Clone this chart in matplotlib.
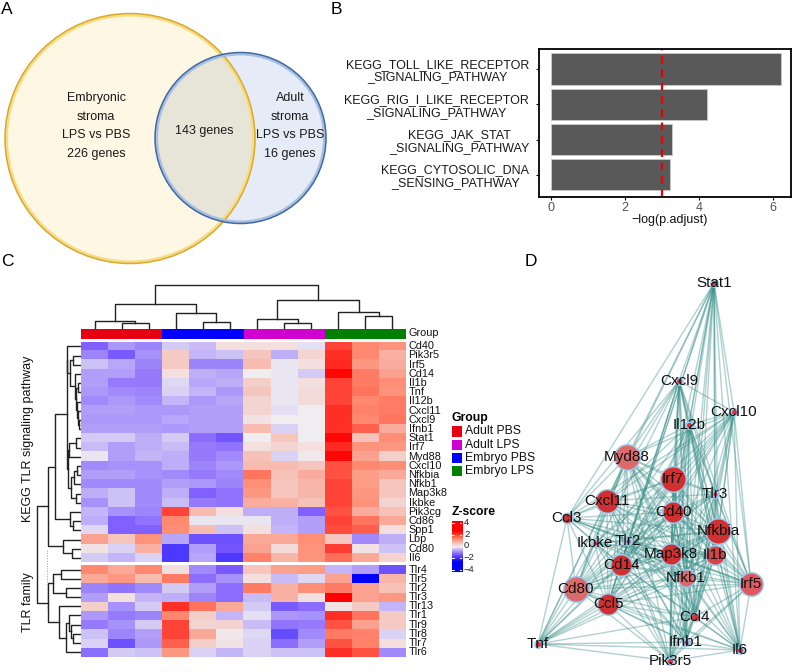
import numpy as np
import matplotlib
matplotlib.use("Agg")
import matplotlib.pyplot as plt
from matplotlib.colors import LinearSegmentedColormap
from matplotlib.patches import Circle, Rectangle

plt.rcParams['font.family'] = ['Liberation Sans', 'DejaVu Sans']

# panel A
venn_left = ["Embryonic", "stroma", "LPS vs PBS", "226 genes"]
venn_right = ["Adult", "stroma", "LPS vs PBS", "16 genes"]
venn_mid = "143 genes"

# panel B
pathways = ["KEGG_TOLL_LIKE_RECEPTOR\n_SIGNALING_PATHWAY",
            "KEGG_RIG_I_LIKE_RECEPTOR\n_SIGNALING_PATHWAY",
            "KEGG_JAK_STAT\n_SIGNALING_PATHWAY",
            "KEGG_CYTOSOLIC_DNA\n_SENSING_PATHWAY"]
neglog_p = [6.21, 4.22, 3.26, 3.21]
cutoff = 3

# panel C
kegg_genes = ["Cd40", "Pik3r5", "Irf5", "Cd14", "Il1b", "Tnf", "Il12b", "Cxcl11", "Cxcl9", "Ifnb1",
              "Stat1", "Irf7", "Myd88", "Cxcl10", "Nfkbia", "Nfkb1", "Map3k8", "Ikbke", "Pik3cg",
              "Cd86", "Spp1", "Lbp", "Cd80", "Il6"]
tlr_genes = ["Tlr4", "Tlr5", "Tlr2", "Tlr3", "Tlr13", "Tlr1", "Tlr9", "Tlr8", "Tlr7", "Tlr6"]
kegg_z = [
    [-2.0, -1.2, -1.5, -0.5, -0.7, 0.3, 0.3, 0.3, -0.2, 3.0, 2.0, 1.8],
    [-1.5, -2.1, -1.3, 0.7, -0.8, -0.6, 0.8, -0.9, 0.5, 3.3, 2.0, 1.2],
    [-0.6, -1.0, -1.5, 0.7, -1.5, -1.5, 1.0, -0.1, 0.3, 3.4, 1.7, 1.3],
    [-1.1, -1.1, -1.6, 0.3, -0.9, -1.0, 0.0, -0.1, -0.5, 3.9, 2.2, 1.5],
    [-1.1, -1.6, -1.6, -0.3, -1.0, -0.9, 0.6, -0.1, 0.3, 3.0, 2.2, 1.9],
    [-1.2, -1.4, -1.5, -0.4, -0.8, -1.2, 0.8, -0.1, 0.4, 3.0, 2.3, 1.8],
    [-1.4, -1.2, -1.4, -0.8, -1.2, -1.0, 0.5, -0.1, 0.4, 3.0, 2.0, 2.2],
    [-1.1, -1.1, -1.2, -1.2, -1.1, -1.1, 0.5, -0.2, 0.0, 3.3, 2.1, 2.2],
    [-1.2, -1.2, -1.2, -1.0, -1.1, -1.1, 0.2, 0.0, 0.0, 3.3, 2.0, 2.3],
    [-1.1, -1.1, -1.1, -1.2, -1.1, -1.1, 1.0, -0.4, 0.0, 3.3, 2.6, 1.3],
    [-0.5, -0.5, -0.9, -0.5, -1.8, -2.2, 0.0, 0.8, 0.0, 3.9, 0.9, 1.9],
    [-0.7, -1.1, -0.9, -0.7, -1.6, -1.7, 0.3, 0.5, 0.3, 3.4, 1.8, 1.7],
    [-0.1, -1.1, -0.8, -0.9, -1.6, -1.4, 0.9, -0.4, 0.1, 3.9, 1.5, 0.6],
    [-1.4, -1.3, -1.3, -0.9, -1.5, -1.2, 1.0, 1.0, 0.8, 2.8, 2.0, 1.9],
    [-1.1, -1.1, -1.3, -1.4, -1.6, -1.4, 2.3, 0.9, 1.3, 2.8, 1.6, 1.4],
    [-1.4, -1.4, -1.4, -1.1, -1.2, -1.5, 1.9, 0.8, 1.1, 3.0, 1.6, 0.8],
    [-0.9, -0.6, -1.4, -0.9, -2.0, -1.7, 1.7, 0.8, 1.1, 3.0, 1.7, 0.8],
    [-1.3, -0.6, -1.4, -0.7, -1.6, -1.7, 1.3, 1.2, 0.9, 3.0, 1.8, 0.5],
    [-0.8, -1.3, -1.5, 3.0, 1.0, 0.3, -0.9, -0.9, -2.0, 2.8, 1.3, 0.9],
    [-0.9, -2.0, -1.7, 2.0, -0.1, -0.1, -0.1, -0.9, -1.1, 3.0, 2.3, 1.4],
    [-0.3, -2.0, -2.0, 1.9, 1.0, -0.6, 0.3, -0.8, -1.1, 2.9, 2.6, 0.3],
    [1.5, 0.8, 1.8, -1.0, -2.3, -2.3, 1.4, 1.4, 1.9, 0.8, -1.4, -0.9],
    [0.2, -0.4, 1.2, -2.8, -1.1, -2.2, 1.5, 0.4, 1.8, 3.1, 0.2, -0.6],
    [-0.5, -0.8, -0.4, -2.8, -1.0, -2.8, 2.1, 1.1, 1.8, 2.4, 1.4, 0.5],
]
tlr_z = [
    [2.0, 1.4, 2.0, 0.3, -1.4, -2.1, 0.8, 1.5, 1.6, -0.8, -1.1, -2.3],
    [1.4, 1.7, 1.0, 2.2, -1.8, -1.3, 0.3, -0.7, -0.3, 1.5, -4.0, 1.1],
    [-1.5, -1.7, -1.4, -0.5, -1.1, -1.8, 2.2, 1.2, 1.9, 2.2, 1.5, 0.9],
    [-1.1, 0.3, -0.8, -0.9, -1.5, -1.8, -0.7, 1.2, 0.3, 4.0, 1.5, 1.7],
    [0.6, -1.3, -0.5, 3.3, 2.3, 1.4, -0.5, -2.1, -1.8, 0.2, 0.7, -0.8],
    [-1.2, -1.6, -1.5, 2.0, 0.6, -0.8, -0.2, -1.2, -1.3, 3.3, 2.3, 0.7],
    [-1.6, -1.3, -0.5, 3.0, 0.5, 0.5, -0.7, -1.7, -1.6, 2.8, 1.5, 0.7],
    [-0.6, -1.5, -1.1, 3.0, 1.4, 0.1, -0.3, -2.4, -1.4, 2.2, 2.1, -0.4],
    [-0.4, -2.3, -1.2, 2.6, 0.6, 0.2, -0.4, -1.8, -1.1, 2.8, 2.1, 0.3],
    [-1.8, -0.5, -0.6, 1.7, -0.4, -0.8, -0.4, -0.6, -0.6, 3.3, 2.8, -1.4],
]
group_names = ["Adult PBS", "Adult LPS", "Embryo PBS", "Embryo LPS"]
group_colors = ["#e60012", "#d000d0", "#0000ff", "#008000"]
col_groups = [0, 2, 1, 3]   # order of the groups along the top bar
z_ticks = [4, 2, 0, -2, -4]

# dendrograms as (height, left, right), leaves are column/row numbers
col_tree = (43, (24, (7, 0, (5.4, 1, 2)), (15, 3, (6.3, 4, 5))),
            (28, (8.7, 6, (5.3, 7, 8)), (16, 9, (12, 10, 11))))
tree_a = (14, 0, (11, (8.5, 1, 2), (6.5, 3, (5.5, (3, 4, 5), (4.5, 6, (3.5, 7, (2.5, 8, 9)))))))
tree_b = (12.5, (5, 10, 11), 12)
tree_c = (10, (7, (4, 13, 14), 15), (5, 16, 17))
tree_kegg = (33, (26, (14.5, tree_a, (13.5, tree_b, tree_c)), (11, 18, (8, 19, 20))),
             (18, 21, (9, 22, 23)))
tree_tlr = (33, (28, (20, 24, 25), (15, 26, 27)),
            (22, 28, (15.5, (12, 29, (10.5, 30, (8.5, 31, 32))), 33)))
row_tree = (44.3, tree_kegg, tree_tlr)

# panel D
node_names = ["Stat1", "Cxcl9", "Cxcl10", "Il12b", "Myd88", "Irf7", "Tlr3", "Cxcl11", "Cd40", "Ccl3",
              "Nfkbia", "Ikbke", "Tlr2", "Map3k8", "Il1b", "Cd14", "Nfkb1", "Irf5", "Cd80", "Ccl5",
              "Ccl4", "Tnf", "Ifnb1", "Il6", "Pik3r5"]
node_x = [714, 679, 734, 689, 627, 673, 715, 607, 673, 567, 718, 595, 628, 671, 715, 621, 686, 751,
          576, 608, 695, 538, 686, 740, 670]
node_y = [283, 381, 412, 425, 457, 479, 494, 501, 512, 518, 531, 543, 541, 554, 555, 565, 578, 584,
          589, 604, 617, 644, 642, 650, 661]
node_r = [2.5, 2.5, 2.5, 2.5, 12, 12, 2, 11, 10, 4.5, 12, 2, 2, 10, 9, 10, 8, 11, 12, 10, 3.5, 2.5,
          2, 2.5, 2.5]
node_red = ["#d9343a", "#d9343a", "#d9343a", "#d9343a", "#dc6a6a", "#d03030", "#d9343a", "#d03030",
            "#d03030", "#d03030", "#d03030", "#d9343a", "#d9343a", "#d03030", "#d64545", "#d03030",
            "#dc6a6a", "#dc5a5f", "#dc6a6a", "#d03030", "#d9343a", "#d9343a", "#d9343a", "#d9343a",
            "#d9343a"]
links = {
    "Stat1": "Ccl3 Cxcl11 Myd88 Cxcl9 Il12b Cxcl10 Irf7 Cd40 Tlr3 Nfkbia Il1b Map3k8 Irf5 Nfkb1 Cd14 Il6 Ifnb1 Ccl5 Ccl4",
    "Cxcl9": "Cxcl10 Il12b Myd88 Irf7 Cd40 Cxcl11 Ccl3 Tlr3 Nfkbia Map3k8 Il1b Cd14 Nfkb1 Tlr2 Irf5 Ccl5 Cd80 Ccl4 Ifnb1 Il6 Pik3r5",
    "Cxcl10": "Il12b Myd88 Irf7 Cd40 Cxcl11 Nfkbia Map3k8 Il1b Tlr3 Cd14 Nfkb1 Irf5 Ccl5 Ccl4 Il6 Ifnb1 Tlr2 Ccl3 Ikbke",
    "Il12b": "Myd88 Irf7 Cd40 Cxcl11 Nfkbia Map3k8 Il1b Tlr3 Cd14 Nfkb1 Irf5 Ccl4 Ifnb1 Pik3r5 Cd80 Ccl5 Il6",
    "Myd88": "Irf7 Cd40 Tlr3 Cxcl11 Ccl3 Nfkbia Ikbke Tlr2 Map3k8 Il1b Cd14 Nfkb1 Irf5 Cd80 Ccl5 Ccl4 Il6 Pik3r5 Tnf Ifnb1",
    "Irf7": "Tlr3 Cxcl11 Cd40 Ccl3 Nfkbia Ikbke Tlr2 Map3k8 Il1b Cd14 Nfkb1 Irf5 Cd80 Ccl5 Ccl4 Ifnb1 Il6 Pik3r5",
    "Tlr3": "Cxcl11 Cd40 Nfkbia Map3k8 Il1b Cd14 Nfkb1 Irf5 Ccl4 Il6 Tlr2 Cd80 Pik3r5",
    "Cxcl11": "Cd40 Ccl3 Nfkbia Ikbke Tlr2 Map3k8 Il1b Cd14 Nfkb1 Irf5 Cd80 Ccl5 Ccl4 Tnf Pik3r5 Ifnb1",
    "Cd40": "Ccl3 Nfkbia Ikbke Tlr2 Map3k8 Il1b Cd14 Nfkb1 Irf5 Cd80 Ccl5 Ccl4 Ifnb1 Il6 Tnf Pik3r5",
    "Ccl3": "Nfkbia Ikbke Tlr2 Map3k8 Il1b Cd14 Irf5 Cd80 Ccl5 Tnf Nfkb1",
    "Nfkbia": "Ikbke Tlr2 Map3k8 Il1b Cd14 Nfkb1 Irf5 Cd80 Ccl5 Ccl4 Ifnb1 Il6 Tnf Pik3r5",
    "Ikbke": "Tlr2 Map3k8 Il1b Cd14 Nfkb1 Cd80 Ccl5 Tnf Ifnb1 Pik3r5 Irf5",
    "Tlr2": "Map3k8 Il1b Cd14 Nfkb1 Irf5 Cd80 Ccl5 Ccl4 Il6 Tnf Ifnb1 Pik3r5",
    "Map3k8": "Il1b Cd14 Nfkb1 Irf5 Cd80 Ccl5 Ccl4 Ifnb1 Il6 Tnf Pik3r5",
    "Il1b": "Cd14 Nfkb1 Irf5 Cd80 Ccl5 Ccl4 Ifnb1 Il6 Tnf Pik3r5",
    "Cd14": "Nfkb1 Irf5 Cd80 Ccl5 Ccl4 Ifnb1 Il6 Tnf Pik3r5",
    "Nfkb1": "Irf5 Cd80 Ccl5 Ccl4 Ifnb1 Il6 Tnf Pik3r5",
    "Irf5": "Ccl5 Ccl4 Ifnb1 Il6 Pik3r5 Cd80",
    "Cd80": "Ccl5 Tnf Pik3r5 Ifnb1 Ccl4 Il6",
    "Ccl5": "Ccl4 Tnf Ifnb1 Pik3r5 Il6",
    "Ccl4": "Ifnb1 Il6 Pik3r5 Tnf",
    "Tnf": "Ifnb1 Il6 Pik3r5",
    "Ifnb1": "Il6 Pik3r5",
    "Il6": "Pik3r5",
}

W, H = 792, 672
fig = plt.figure(figsize=(W / 100, H / 100), dpi=100)


def px_axes(left, top, right, bottom):
    return fig.add_axes([left / W, 1 - bottom / H, (right - left) / W, (bottom - top) / H])


# whole figure axes in pixels, for everything placed by hand
ax = px_axes(0, 0, W, H)
ax.set_xlim(0, W)
ax.set_ylim(H, 0)
ax.axis("off")

for letter, lx, ly in [("A", 7, 10), ("B", 336, 10), ("C", 7, 262), ("D", 531, 262)]:
    ax.text(lx, ly, letter, fontsize=12.5, ha="center", va="center")

# ---- A
big = Circle((130, 138.5), 125, fc="#fdf7e3", ec="none")
small = Circle((240.5, 138), 85.5, fc="#e6ecf7", ec="none")
ax.add_patch(big)
ax.add_patch(small)
both = Circle((240.5, 138), 85.5, fc="#e7e4d8", ec="none")
ax.add_patch(both)
both.set_clip_path(big)
ax.add_patch(Circle((130, 138.5), 123.5, fc="none", ec="#f6dc84", lw=2.2))
ax.add_patch(Circle((130, 138.5), 125, fc="none", ec="#d9a92c", lw=1.1))
ax.add_patch(Circle((240.5, 138), 84, fc="none", ec="#a9bfe0", lw=2.2))
ax.add_patch(Circle((240.5, 138), 85.5, fc="none", ec="#3f6aa5", lw=1.1))
for txt_y, a, b in zip([98, 117, 135, 154], venn_left, venn_right):
    ax.text(96, txt_y, a, fontsize=9, ha="center", va="center", color="#1a1a1a")
    ax.text(290, txt_y, b, fontsize=9, ha="center", va="center", color="#1a1a1a")
ax.text(204, 131, venn_mid, fontsize=9, ha="center", va="center", color="#1a1a1a")

# ---- B
bx = px_axes(539, 49, 791, 197)
bar_pos = np.arange(len(neglog_p))
bx.barh(bar_pos, neglog_p, height=0.89, color="#595959", edgecolor="#c8c8c8", linewidth=0.6)
bx.axvline(cutoff, color="#ee0000", lw=1.6, ls=(0, (3.5, 2.5)))
bx.set_xlim(-0.315, 6.48)
bx.set_ylim(3.63, -0.57)
bx.set_xticks([0, 2, 4, 6])
bx.set_yticks(bar_pos)
bx.set_yticklabels(pathways, fontsize=9, color="#1a1a1a", multialignment="center", linespacing=1.1)
bx.tick_params(axis="x", labelsize=9, labelcolor="#555555", length=2.5, width=0.8, pad=1)
bx.tick_params(axis="y", length=2.5, width=0.8, pad=4.5)
for s in bx.spines.values():
    s.set_linewidth(1.3)
ax.text(669.5, 220.5, "\u2212log(p.adjust)", fontsize=9, ha="center", va="center", color="#111111")

# ---- C
cmap = LinearSegmentedColormap.from_list(
    "zscore", [(0, "#0000ff"), (0.25, "#8060ff"), (0.5, "#f0eef2"), (0.75, "#ff8a70"), (1, "#ff0000")])
heat_l, heat_r = 81, 406
kegg_top, kegg_bot = 341.7, 562.5
tlr_top, tlr_bot = 565, 656.7

for vals, top, bot, genes in [(kegg_z, kegg_top, kegg_bot, kegg_genes), (tlr_z, tlr_top, tlr_bot, tlr_genes)]:
    hx = px_axes(heat_l, top, heat_r, bot)
    hx.imshow(np.array(vals), cmap=cmap, vmin=-4, vmax=4, aspect="auto", interpolation="nearest")
    hx.axis("off")
    for i, g in enumerate(genes):
        ax.text(heat_r + 2.5, top + (i + 0.5) * (bot - top) / len(genes), g, fontsize=7.85,
                ha="left", va="center", color="#111111")

col_w = (heat_r - heat_l) / 12
for i, g in enumerate(col_groups):
    ax.add_patch(Rectangle((heat_l + i * 3 * col_w, 328.7), 3 * col_w, 10.6, fc=group_colors[g], ec="none"))
ax.text(heat_r + 2.5, 333.5, "Group", fontsize=7.85, ha="left", va="center", color="#111111")

leaf_col = [heat_l + (i + 0.5) * col_w for i in range(12)]
leaf_row = [kegg_top + (i + 0.5) * (kegg_bot - kegg_top) / 24 for i in range(24)] + \
           [tlr_top + (i + 0.5) * (tlr_bot - tlr_top) / 10 for i in range(10)]


def draw_tree(node, leaf_pos, horizontal):
    # returns position along the leaves and height of this node
    if not isinstance(node, tuple):
        return leaf_pos[node], 0
    h, left, right = node
    p1, h1 = draw_tree(left, leaf_pos, horizontal)
    p2, h2 = draw_tree(right, leaf_pos, horizontal)
    pos = [p1, p1, p2, p2]
    hts = [h1, h, h, h2]
    if horizontal:
        ax.plot([heat_l - t for t in hts], pos, color="#222222", lw=1.0, solid_capstyle="projecting")
    else:
        ax.plot(pos, [328 - t for t in hts], color="#222222", lw=1.0, solid_capstyle="projecting")
    return (p1 + p2) / 2, h


draw_tree(col_tree, leaf_col, False)
draw_tree(row_tree, leaf_row, True)
ax.plot([47, 47], [550, 610], color="#999999", lw=0.7, ls=":")

ax.text(28, 439, "KEGG TLR signaling pathway", fontsize=9, rotation=90, ha="center", va="center", color="#111111")
ax.text(28, 602, "TLR family", fontsize=9, rotation=90, ha="center", va="center", color="#111111")

# legends
ax.text(452, 418, "Group", fontsize=8.8, fontweight="bold", ha="left", va="center")
for i, (name, c) in enumerate(zip(group_names, group_colors)):
    key_y = 431.5 + i * 13.2
    ax.add_patch(Rectangle((452, key_y - 5.2), 10, 10.4, fc=c, ec="none"))
    ax.text(465, key_y, name, fontsize=8.8, ha="left", va="center", color="#111111")
ax.text(452, 512, "Z-score", fontsize=8.7, fontweight="bold", ha="left", va="center")

cx = px_axes(452, 521, 462, 572)
grad = np.linspace(4.4, -4.4, 100).reshape(-1, 1) * 1.5
cx.imshow(grad, cmap=cmap, vmin=-4, vmax=4, aspect="auto", extent=(0, 1, -4.4, 4.4))
cx.set_xticks([])
cx.set_yticks([])
for s in cx.spines.values():
    s.set_visible(False)
for t in z_ticks:
    cx.plot([0, 0.2], [t, t], color="white", lw=0.7)
    cx.plot([0.8, 1], [t, t], color="white", lw=0.7)
    label = str(t).replace("-", "\u2212")
    ax.text(464, 546 - t * 5.8, label, fontsize=6.8, ha="left", va="center", color="#222222")
cx.set_xlim(0, 1)
cx.set_ylim(-4.4, 4.4)

# ---- D
nx = px_axes(520, 270, W, H)
nx.set_xlim(520, W)
nx.set_ylim(H, 270)
nx.axis("off")
where = {n: (x, y) for n, x, y in zip(node_names, node_x, node_y)}
for a, others in links.items():
    for b in others.split():
        nx.plot([where[a][0], where[b][0]], [where[a][1], where[b][1]], color="#3a8f8a",
                alpha=0.4, lw=1.0, zorder=1)
for n, x, y, r, c in zip(node_names, node_x, node_y, node_r, node_red):
    ring = max(r + 1.5, 4.5)
    nx.scatter([x], [y], s=(2 * ring * 0.72) ** 2, color="#9cc8f0", linewidths=0, zorder=2)
    nx.scatter([x], [y], s=(2 * r * 0.72) ** 2, color=c, linewidths=0, zorder=3)
    nx.text(x, y, n, fontsize=11, ha="center", va="center", color="#111111", zorder=4)

fig.savefig("out.png", dpi=100)
